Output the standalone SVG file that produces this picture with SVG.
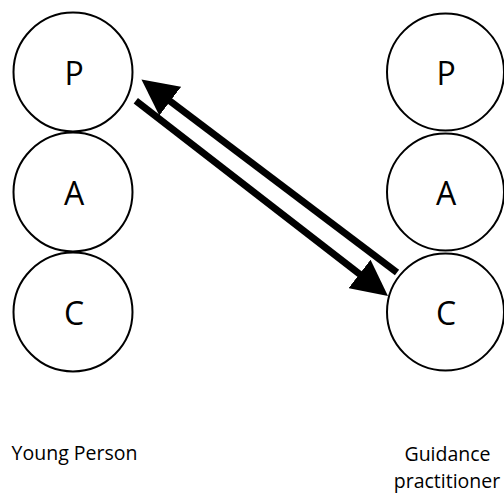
<svg xmlns="http://www.w3.org/2000/svg" width="504" height="493" viewBox="0 0 504 493">
<style>
.node circle{fill:#fff;stroke:#000;stroke-width:2}
.node text,.label{font-family:"Open Sans","Noto Sans","Liberation Sans",sans-serif;fill:#000;text-anchor:middle}
.node text{font-size:32px}
.label{font-size:19.5px}
.conn line{stroke:#000;stroke-width:7;stroke-linecap:butt}
</style>
<defs>
<marker id="ah" viewBox="0 0 36 36" refX="2" refY="18" markerWidth="36" markerHeight="36" markerUnits="userSpaceOnUse" orient="auto">
<path d="M0,0 L36,18 L0,36 z" fill="#000"/>
</marker>
</defs>
<rect width="504" height="493" fill="#fff"/>
<g id="yp-p" class="node"><circle cx="73" cy="72" r="59.5"/><text x="74" y="85">P</text></g>
<g id="yp-a" class="node"><circle cx="73" cy="192" r="59.5"/><text x="74" y="205">A</text></g>
<g id="yp-c" class="node"><circle cx="73" cy="312" r="59.5"/><text x="74" y="325">C</text></g>
<g id="gp-p" class="node"><circle cx="445.5" cy="72" r="58.5"/><text x="446" y="85">P</text></g>
<g id="gp-a" class="node"><circle cx="445.5" cy="192" r="58.5"/><text x="446" y="205">A</text></g>
<g id="gp-c" class="node"><circle cx="445.5" cy="312" r="58.5"/><text x="446" y="325">C</text></g>
<g id="connectors" class="conn">
<line x1="397" y1="272.5" x2="168.6" y2="100" marker-end="url(#ah)"/>
<line x1="135.8" y1="100.8" x2="361.1" y2="275.2" marker-end="url(#ah)"/>
</g>
<text class="label" x="74.5" y="460">Young Person</text>
<text class="label" x="447.5" y="461">Guidance</text>
<text class="label" x="447" y="488">practitioner</text>
</svg>
